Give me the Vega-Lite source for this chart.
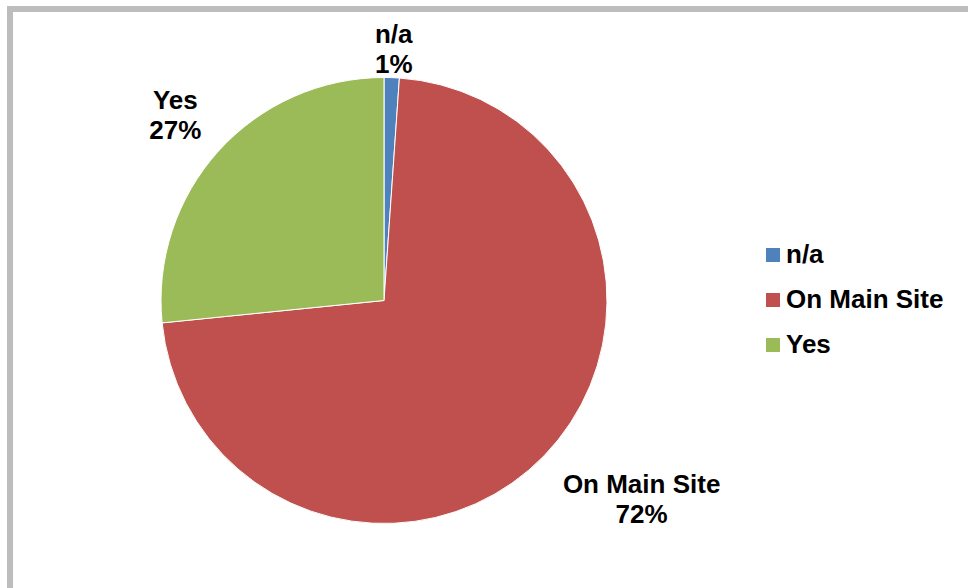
{
  "$schema": "https://vega.github.io/schema/vega-lite/v6.json",
  "width": 980,
  "height": 600,
  "autosize": {"type": "none"},
  "padding": {"left": 10, "top": 9, "right": 0, "bottom": 0},
  "background": "white",
  "view": {"stroke": "#bdbdbd", "strokeWidth": 6, "fill": "white"},
  "config": {
    "view": {"stroke": "#bdbdbd", "strokeWidth": 6, "fill": "white"},
    "font": "Liberation Sans"
  },
  "data": {
    "values": [
      {"cat": "n/a", "value": 1.1, "idx": 1},
      {"cat": "On Main Site", "value": 72.3, "idx": 2},
      {"cat": "Yes", "value": 26.6, "idx": 3}
    ]
  },
  "transform": [
    {"calculate": "datum.cat + '\\n' + format(datum.value, '.0f') + '%'", "as": "label"}
  ],
  "encoding": {
    "theta": {"field": "value", "type": "quantitative", "stack": true},
    "order": {"field": "idx", "type": "quantitative"}
  },
  "layer": [
    {
      "mark": {"type": "arc", "outerRadius": 223, "x": 374, "y": 291.5, "stroke": "white", "strokeWidth": 1},
      "encoding": {
        "color": {
          "field": "cat",
          "type": "nominal",
          "scale": {"domain": ["n/a", "On Main Site", "Yes"], "range": ["#4F81BD", "#C0504D", "#9BBB59"]},
          "legend": {
            "title": null,
            "orient": "none",
            "legendX": 750,
            "legendY": 233,
            "symbolType": "square",
            "symbolSize": 196,
            "symbolStrokeWidth": 0,
            "symbolOpacity": 1,
            "labelFontSize": 26,
            "labelFontWeight": "bold",
            "labelFont": "Liberation Sans",
            "labelColor": "black",
            "labelOffset": 0,
            "rowPadding": 19,
            "padding": 0
          }
        }
      }
    },
    {
      "mark": {"type": "text", "x": 374, "y": 291.5, "radius": 253, "dx": 1, "dy": -13, "fontSize": 26, "fontWeight": "bold", "lineBreak": "\n", "lineHeight": 30, "align": "center", "baseline": "middle", "color": "black"},
      "encoding": {
        "text": {"condition": {"test": "datum.cat === 'n/a'", "field": "label"}, "value": ""}
      }
    },
    {
      "mark": {"type": "text", "x": 374, "y": 291.5, "radius": 310, "dx": 35, "dy": -31, "fontSize": 26, "fontWeight": "bold", "lineBreak": "\n", "lineHeight": 30, "align": "center", "baseline": "middle", "color": "black"},
      "encoding": {
        "text": {"condition": {"test": "datum.cat === 'On Main Site'", "field": "label"}, "value": ""}
      }
    },
    {
      "mark": {"type": "text", "x": 374, "y": 291.5, "radius": 280, "dx": -1, "dy": -12, "fontSize": 26, "fontWeight": "bold", "lineBreak": "\n", "lineHeight": 30, "align": "center", "baseline": "middle", "color": "black"},
      "encoding": {
        "text": {"condition": {"test": "datum.cat === 'Yes'", "field": "label"}, "value": ""}
      }
    }
  ]
}
